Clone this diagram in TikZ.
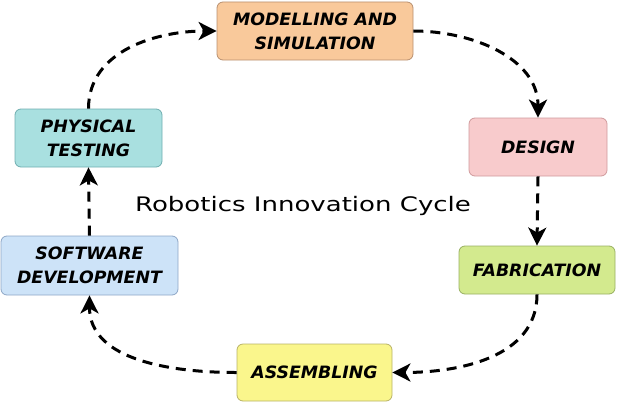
\documentclass[tikz,border=0pt]{standalone}
\usepackage{fontspec}
\setmainfont{DejaVu Sans}
\newfontfamily\lblfont[FakeStretch=1.02]{DejaVu Sans}
\newfontfamily\ttlfont[FakeStretch=1.3]{DejaVu Sans}
\usetikzlibrary{arrows.meta}
\definecolor{msfill}{HTML}{F9C99B}\definecolor{msdraw}{HTML}{B89070}
\definecolor{dsfill}{HTML}{F8CBCC}\definecolor{dsdraw}{HTML}{D09A9C}
\definecolor{fbfill}{HTML}{D3EA8E}\definecolor{fbdraw}{HTML}{98B062}
\definecolor{asfill}{HTML}{FAF68C}\definecolor{asdraw}{HTML}{B8B266}
\definecolor{sdfill}{HTML}{CDE3F8}\definecolor{sddraw}{HTML}{8EA6C6}
\definecolor{ptfill}{HTML}{A9E0E0}\definecolor{ptdraw}{HTML}{70AEB0}
\tikzset{
  stage/.style={rounded corners=6pt, line width=0.8pt, align=center,
    font=\lblfont\bfseries\itshape\fontsize{17}{24}\selectfont, inner sep=0pt},
  flow/.style={line width=3pt, dash pattern=on 10pt off 7pt,
    -{Stealth[length=18pt,width=18pt,inset=5pt]}}
}
\begin{document}
\begin{tikzpicture}[x=1pt,y=-1pt]
\useasboundingbox (0,0) rectangle (617,404);
\node[stage, fill=msfill, draw=msdraw, minimum width=196pt, minimum height=58pt] (ms) at (315,31) {MODELLING AND\\SIMULATION};
\node[stage, fill=dsfill, draw=dsdraw, minimum width=138pt, minimum height=58pt] (ds) at (538,147) {DESIGN};
\node[stage, fill=fbfill, draw=fbdraw, minimum width=156pt, minimum height=48pt] (fb) at (537,270) {FABRICATION};
\node[stage, fill=asfill, draw=asdraw, minimum width=155pt, minimum height=57pt] (as) at (314.5,372.5) {ASSEMBLING};
\node[stage, fill=sdfill, draw=sddraw, minimum width=177pt, minimum height=59pt] (sd) at (89.5,265.5) {SOFTWARE\\DEVELOPMENT};
\node[stage, fill=ptfill, draw=ptdraw, minimum width=147pt, minimum height=58pt] (pt) at (88.5,138) {PHYSICAL\\TESTING};
\node[font=\ttlfont\fontsize{20}{24}\selectfont] (title) at (303,206) {Robotics Innovation Cycle};
\draw[flow] (pt.north) to[out=90,in=180] (ms.west);
\draw[flow] (ms.east) to[out=0,in=90] (ds.north);
\draw[flow] (ds.south) -- (fb.north);
\draw[flow] (fb.south) to[out=-90,in=0] (as.east);
\draw[flow] (as.west) to[out=180,in=-90] (sd.south);
\draw[flow] (sd.north) -- (pt.south);
\end{tikzpicture}
\end{document}
